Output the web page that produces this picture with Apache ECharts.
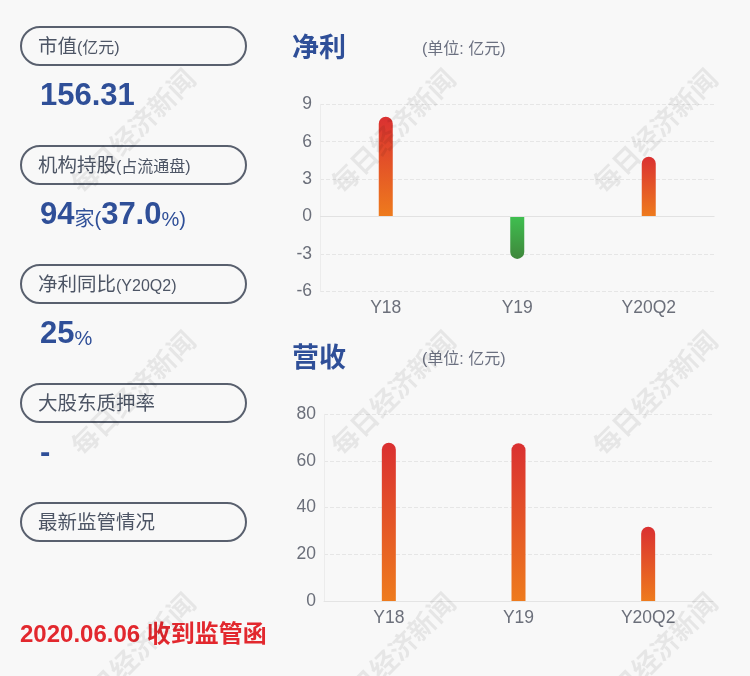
<!DOCTYPE html>
<html>
<head>
<meta charset="utf-8">
<title>净利 营收</title>
<script src="https://cdn.jsdelivr.net/npm/echarts@6/dist/echarts.min.js"></script>
<style>
  html, body { margin: 0; padding: 0; background: #f8f8f8; }
  #chart { width: 750px; height: 676px; }
</style>
</head>
<body>
<div id="chart"></div>
<script>
// 数据
var categories = ['Y18', 'Y19', 'Y20Q2'];
var profitValues = [8.0, -3.4, 4.8];      // 净利 (亿元)
var revenueValues = [67.8, 67.6, 31.8];   // 营收 (亿元)

var infoLabels = ['市值', '机构持股', '净利同比', '大股东质押率', '最新监管情况'];
var infoNotes = ['(亿元)', '(占流通盘)', '(Y20Q2)', '', ''];
// 每段: [文字, 是否大号]
var infoValues = [
  [['156.31', 1]],
  [['94', 1], ['家(', 0], ['37.0', 1], ['%)', 0]],
  [['25', 1], ['%', 0]],
  [['-', 1]],
  []
];
var noticeText = '2020.06.06 收到监管函';
var watermark = '每日经济新闻';

var FONT = '"Liberation Sans", Arial, "Noto Sans CJK SC", sans-serif';
var BLUE = '#2f4f98';
var GRAY = '#4d5565';

var myChart = echarts.init(document.getElementById('chart'));

function redGrad() {
  return new echarts.graphic.LinearGradient(0, 0, 0, 1, [
    { offset: 0, color: '#da3031' },
    { offset: 1, color: '#ee7b1d' }
  ]);
}
function greenGrad() {
  return new echarts.graphic.LinearGradient(0, 0, 0, 1, [
    { offset: 0, color: '#3fbf50' },
    { offset: 1, color: '#3f873b' }
  ]);
}
function barData(values) {
  return values.map(function (v) {
    return {
      value: v,
      itemStyle: v < 0
        ? { color: greenGrad(), borderRadius: [0, 0, 7, 7] }
        : { color: redGrad(), borderRadius: [7, 7, 0, 0] }
    };
  });
}

// 左侧信息 + 标题 + 水印
var graphics = [];
for (var i = 0; i < infoLabels.length; i++) {
  var boxTop = 27 + i * 119;
  graphics.push({
    type: 'rect',
    shape: { x: 21, y: boxTop, width: 225, height: 38, r: 19 },
    style: { fill: 'none', stroke: '#59606e', lineWidth: 2 }
  });
  graphics.push({
    type: 'text',
    x: 38, y: boxTop + 20,
    style: {
      text: '{a|' + infoLabels[i] + '}' + (infoNotes[i] ? '{b|' + infoNotes[i] + '}' : ''),
      verticalAlign: 'middle',
      rich: {
        a: { fontSize: 19.5, fontFamily: FONT, fill: GRAY, verticalAlign: 'bottom', lineHeight: 20 },
        b: { fontSize: 16, fontFamily: FONT, fill: GRAY, verticalAlign: 'bottom', lineHeight: 18 }
      }
    }
  });
  if (infoValues[i].length) {
    graphics.push({
      type: 'text',
      x: 40, y: boxTop + 69,
      style: {
        text: infoValues[i].map(function (p) {
          return '{' + (p[1] ? 'big' : 'small') + '|' + p[0] + '}';
        }).join(''),
        verticalAlign: 'middle',
        rich: {
          big: { fontSize: 31, fontWeight: 'bold', fontFamily: FONT, fill: BLUE, verticalAlign: 'bottom', lineHeight: 31 },
          small: { fontSize: 20, fontFamily: FONT, fill: BLUE, verticalAlign: 'bottom', lineHeight: 22 }
        }
      }
    });
  }
}
graphics.push({
  type: 'text', x: 20, y: 635,
  style: { text: noticeText, fill: '#e2282e', font: 'bold 24px ' + FONT, verticalAlign: 'middle' }
});
[50, 360].forEach(function (y, k) {
  graphics.push({
    type: 'text', x: 292, y: y,
    style: { text: k === 0 ? '净利' : '营收', fill: BLUE, font: 'bold 27px ' + FONT, verticalAlign: 'middle' }
  });
  graphics.push({
    type: 'text', x: 422, y: y,
    style: { text: '(单位: 亿元)', fill: '#6b7080', font: '16px ' + FONT, verticalAlign: 'middle' }
  });
});
[133, 393, 655].forEach(function (cx) {
  [131, 393, 655].forEach(function (cy) {
    graphics.push({
      type: 'text', x: cx, y: cy, rotation: Math.PI / 4, z: 100,
      style: {
        text: watermark, fill: 'rgba(0,0,0,0.07)',
        font: 'bold 27px "Noto Sans CJK SC", sans-serif',
        align: 'center', verticalAlign: 'middle'
      }
    });
  });
});

var axisLabelStyle = { color: '#6b6f7a', fontSize: 17.5, fontFamily: FONT, margin: 8 };
var splitStyle = { show: true, lineStyle: { color: '#e6e6e6', type: 'dashed' } };

var option = {
  backgroundColor: '#f8f8f8',
  animation: false,
  graphic: graphics,
  grid: [
    { left: 320, top: 104.3, width: 394.5, height: 187, outerBoundsMode: 'none' },
    { left: 324, top: 414.3, width: 389, height: 186.7, outerBoundsMode: 'none' }
  ],
  xAxis: [
    {
      gridIndex: 0, type: 'category', data: categories,
      axisLine: { show: false, onZero: false },
      axisTick: { show: false },
      axisLabel: axisLabelStyle
    },
    {
      gridIndex: 1, type: 'category', data: categories,
      axisLine: { show: true, onZero: false, lineStyle: { color: '#e4e4e4' } },
      axisTick: { show: false },
      axisLabel: axisLabelStyle
    }
  ],
  yAxis: [
    {
      gridIndex: 0, type: 'value', min: -6, max: 9, interval: 3,
      axisLine: { show: true, lineStyle: { color: '#ececec' } },
      axisTick: { show: false },
      axisLabel: axisLabelStyle,
      splitLine: splitStyle
    },
    {
      gridIndex: 1, type: 'value', min: 0, max: 80, interval: 20,
      axisLine: { show: true, lineStyle: { color: '#ececec' } },
      axisTick: { show: false },
      axisLabel: axisLabelStyle,
      splitLine: splitStyle
    }
  ],
  series: [
    {
      name: '净利', type: 'bar', xAxisIndex: 0, yAxisIndex: 0,
      barWidth: 14,
      data: barData(profitValues),
      markLine: {
        silent: true, symbol: 'none',
        label: { show: false },
        lineStyle: { color: '#e2e2e2', type: 'solid', width: 1 },
        data: [{ yAxis: 0 }]
      }
    },
    {
      name: '营收', type: 'bar', xAxisIndex: 1, yAxisIndex: 1,
      barWidth: 14,
      data: barData(revenueValues)
    }
  ]
};
myChart.setOption(option);
</script>
</body>
</html>
